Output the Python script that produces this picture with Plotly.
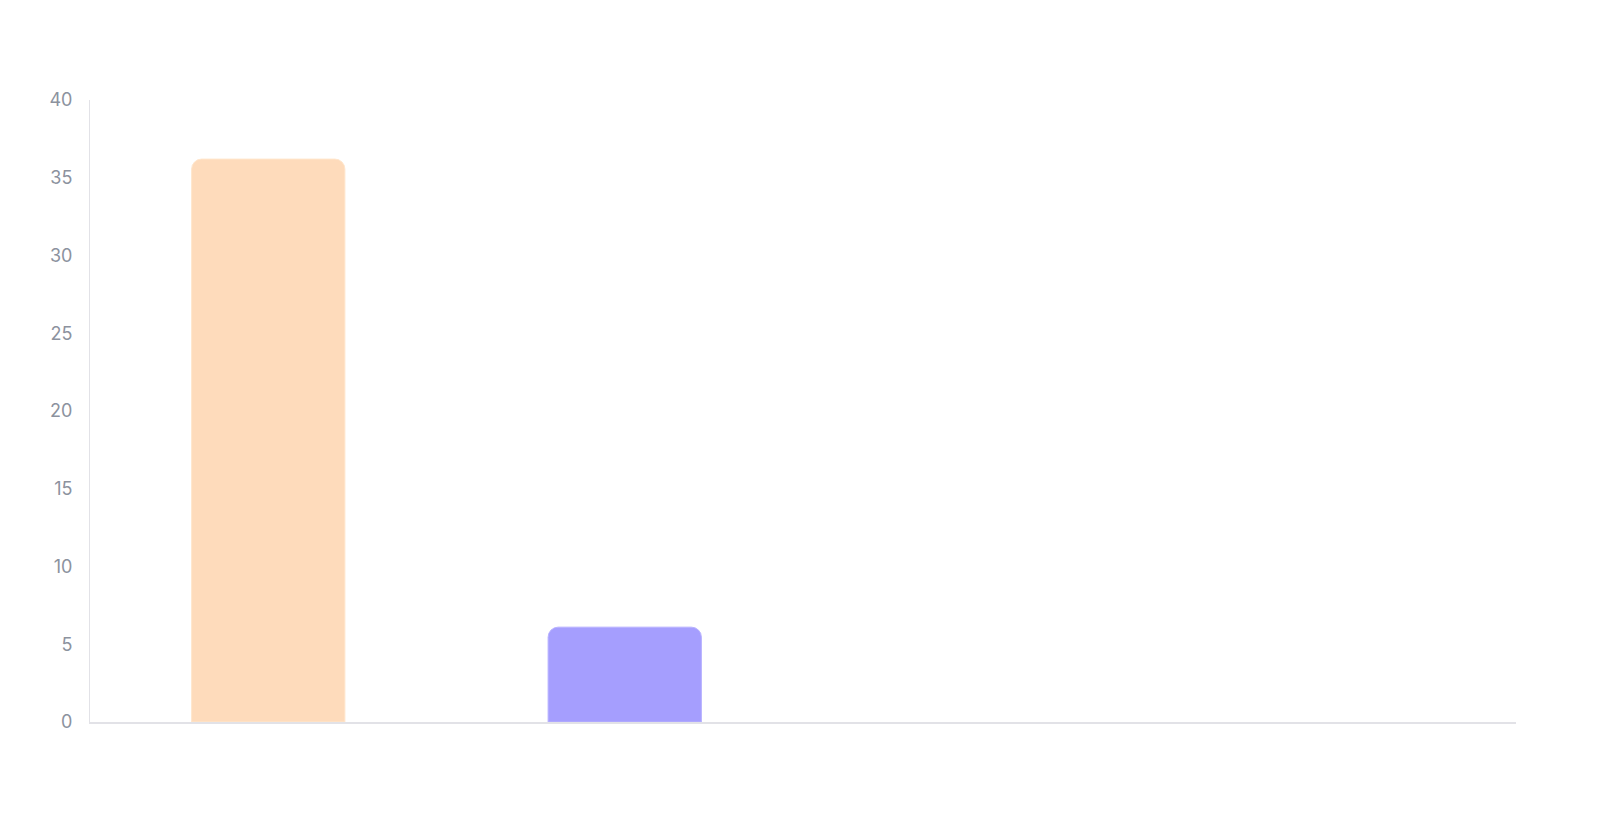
import plotly.graph_objects as go

categories = ["A", "B", "C", "D"]
values = [36.2, 6.1, 0, 0]
bar_colors = ["#FEDBBB", "#A59EFE", "#8FD3C9", "#F7A8B8"]
line_colors = ["#FFE6CC", "#B8B2FF", "#A8E0D8", "#FBC4CF"]
y_ticks = [0, 5, 10, 15, 20, 25, 30, 35, 40]

fig = go.Figure(
    go.Bar(
        x=categories,
        y=values,
        width=0.43,
        marker=dict(
            color=bar_colors,
            line=dict(color=line_colors, width=[1 if v > 0 else 0 for v in values]),
            cornerradius=10,
        ),
        hoverinfo="x+y",
    )
)

fig.update_layout(
    width=1600,
    height=832,
    margin=dict(l=90, r=84, t=100, b=110, pad=0),
    paper_bgcolor="white",
    plot_bgcolor="white",
    showlegend=False,
    font=dict(family="Inter, Roboto, sans-serif", color="#8C929E", size=18),
)

fig.update_xaxes(
    showticklabels=False,
    showgrid=False,
    zeroline=False,
    showline=True,
    linecolor="#E2E2E7",
    linewidth=2,
    ticks="",
)

fig.update_yaxes(
    range=[0, 40],
    tickvals=y_ticks,
    showgrid=False,
    zeroline=False,
    showline=True,
    linecolor="#E2E2E7",
    linewidth=1,
    ticks="",
    ticklabelstandoff=13,
    tickfont=dict(size=18, color="#8C929E"),
)

fig.write_html("out.html")
